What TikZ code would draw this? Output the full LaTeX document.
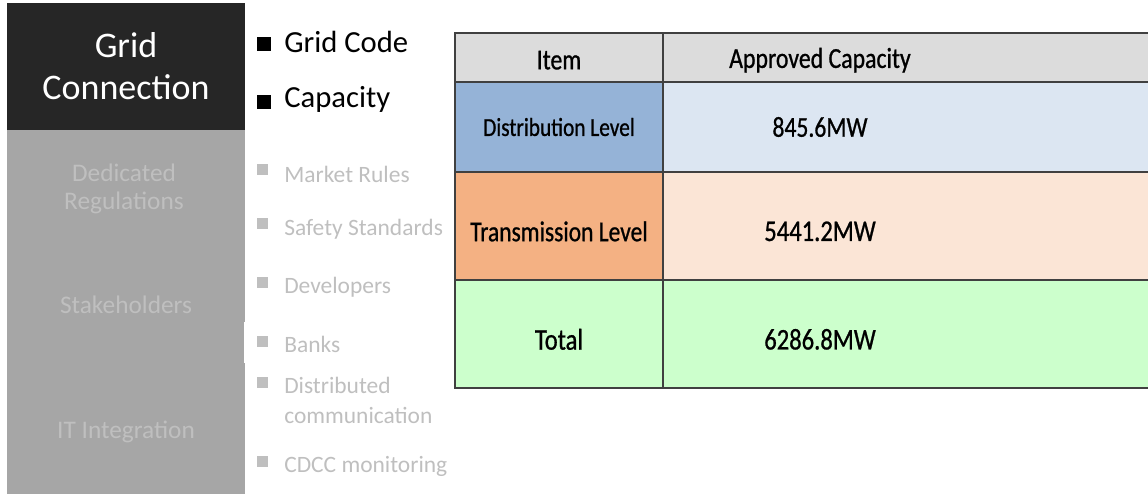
\documentclass[tikz,border=0pt]{standalone}
\usepackage{fontspec}
\setmainfont{Carlito}
\newfontfamily\tablefont[FakeStretch=0.82, FakeBold=0.8]{Carlito}
\usetikzlibrary{positioning}
\usepackage{xcolor}
\definecolor{paneldark}{HTML}{262626}
\definecolor{panelgray}{HTML}{A6A6A6}
\definecolor{fadedgray}{HTML}{BFBFBF}
\definecolor{headgray}{HTML}{DCDCDC}
\definecolor{distleft}{HTML}{95B3D7}
\definecolor{distright}{HTML}{DCE6F2}
\definecolor{transleft}{HTML}{F4B183}
\definecolor{transright}{HTML}{FBE5D6}
\definecolor{totalgreen}{HTML}{CCFFCC}

\begin{document}
\begin{tikzpicture}[x=0.75pt, y=-0.75pt,
    panelhead/.style={align=center, text=white, font=\fontsize{27}{32}\selectfont},
    paneltext/.style={align=center, text=fadedgray, font=\fontsize{19}{21}\selectfont},
    mainsq/.style={rectangle, fill=black, inner sep=0pt, minimum size=10.5pt},
    mainitem/.style={anchor=base west, inner sep=0pt, font=\fontsize{23}{27}\selectfont},
    fadedsq/.style={rectangle, fill=fadedgray, inner sep=0pt, minimum size=8.25pt},
    fadeditem/.style={anchor=base west, inner sep=0pt, text=fadedgray, align=left,
                      font=\fontsize{17.6}{22.5}\selectfont},
    cell/.style={rectangle, draw=black!75, line width=1pt, inner sep=0pt, outer sep=0pt},
    headcell/.style={cell, fill=headgray, minimum height=36.75pt},
    celltext/.style={inner sep=0pt, font=\tablefont\fontsize{22.5}{26}\selectfont}
  ]
    \useasboundingbox (0,0) rectangle (1148,494);

    % side menu
    \fill[panelgray] (7,130) rectangle (245,494);
    \fill[paneldark] (7,3) rectangle (245,130);
    \fill[white] (244,322) rectangle (246,363);
    \node[panelhead] (grid) at (126,66) {Grid\\Connection};
    \node[paneltext] (dedicated) at (124,189) {Dedicated\\Regulations};
    \node[paneltext] (stake) at (126,305) {Stakeholders};
    \node[paneltext] (itint) at (126,432) {IT Integration};

    % bullet list
    \node[mainsq] (sqcode) at (264,44) {};
    \node[mainitem] (code) at (284,52) {Grid Code};
    \node[mainsq] (sqcap) at (264,102) {};
    \node[mainitem] (cap) at (284,107) {Capacity};
    \node[fadedsq] (sqmarket) at (262.5,169) {};
    \node[fadeditem] (market) at (284,182) {Market Rules};
    \node[fadedsq] (sqsafety) at (262.5,223) {};
    \node[fadeditem] (safety) at (284,235) {Safety Standards};
    \node[fadedsq] (sqdev) at (262.5,282) {};
    \node[fadeditem] (dev) at (284,293) {Developers};
    \node[fadedsq] (sqbanks) at (262.5,341) {};
    \node[fadeditem] (banks) at (284,352) {Banks};
    \node[fadedsq] (sqdist) at (262.5,382) {};
    \node[fadeditem] (distcomm) at (284,423) {Distributed\\communication};
    \node[fadedsq] (sqcdcc) at (262.5,461) {};
    \node[fadeditem] (cdcc) at (284,472) {CDCC monitoring};

    % capacity table
    \node[headcell, minimum width=156pt, anchor=north west] (item) at (455,33) {};
    \node[headcell, minimum width=366.75pt, right=0pt of item] (approved) {};
    \node[cell, fill=distleft, minimum width=156pt, minimum height=67.5pt, below=0pt of item] (dist) {};
    \node[cell, fill=distright, minimum width=366.75pt, minimum height=67.5pt, right=0pt of dist] (distval) {};
    \node[cell, fill=transleft, minimum width=156pt, minimum height=81pt, below=0pt of dist] (trans) {};
    \node[cell, fill=transright, minimum width=366.75pt, minimum height=81pt, right=0pt of trans] (transval) {};
    \node[cell, fill=totalgreen, minimum width=156pt, minimum height=81pt, below=0pt of trans] (total) {};
    \node[cell, fill=totalgreen, minimum width=366.75pt, minimum height=81pt, right=0pt of total] (totalval) {};

    % cell texts
    \node[celltext, font=\tablefont\fontsize{21.75}{26}\selectfont] (itemtext) at ([yshift=-2pt]item.center) {Item};
    \node[celltext, font=\tablefont\fontsize{21.75}{26}\selectfont] (approvedtext) at ([xshift=117.75pt, yshift=-2pt]approved.west) {Approved Capacity};
    \node[celltext, font=\tablefont\fontsize{19.5}{24}\selectfont] (disttext) at (dist.center) {Distribution Level};
    \node[celltext, font=\tablefont\fontsize{21.6}{26}\selectfont] (distvaltext) at ([xshift=117.75pt]distval.west) {845.6MW};
    \node[celltext, font=\tablefont\fontsize{21.5}{26}\selectfont] (transtext) at ([yshift=-4pt]trans.center) {Transmission Level};
    \node[celltext] (transvaltext) at ([xshift=117.75pt, yshift=-4pt]transval.west) {5441.2MW};
    \node[celltext] (totaltext) at ([yshift=-4pt]total.center) {Total};
    \node[celltext] (totalvaltext) at ([xshift=117.75pt, yshift=-4pt]totalval.west) {6286.8MW};
\end{tikzpicture}
\end{document}
